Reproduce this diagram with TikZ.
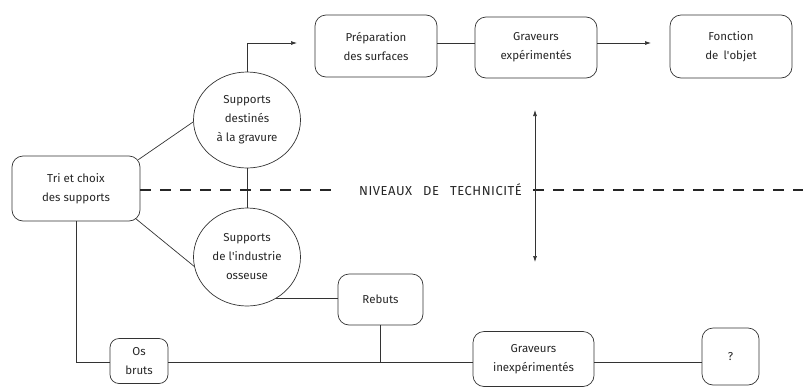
\documentclass[tikz,border=0pt]{standalone}
\usepackage{fontspec}
\setmainfont{Fira Sans}
\usetikzlibrary{arrows.meta,shapes.geometric}
\begin{document}
\begin{tikzpicture}[x=1pt,y=-1pt,
  every node/.style={font=\fontsize{11.5}{19}\selectfont, text=black!85, align=center},
  box/.style={draw=black!80, line width=0.7pt, rounded corners=11pt, inner sep=0pt},
  circ/.style={draw=black!80, line width=0.7pt, ellipse, inner sep=0pt},
  conn/.style={draw=black!80, line width=0.7pt},
  arr/.style={conn, -{Latex[length=6pt,width=4pt]}},
  dbl/.style={conn, {Latex[length=6pt,width=4pt]}-{Latex[length=6pt,width=4pt]}},
  dashline/.style={draw=black!85, line width=1.5pt, dash pattern=on 11pt off 9pt}
]
\useasboundingbox (0,0) rectangle (803,386);

\node[box, minimum width=122pt, minimum height=62pt] (prep) at (376,46) {Préparation\\des surfaces};
\node[box, minimum width=122pt, minimum height=61pt] (gexp) at (536,47.5) {Graveurs\\expérimentés};
\node[box, minimum width=122pt, minimum height=63pt] (fonc) at (731,46.5) {Fonction\\de\hspace{0.45em}l\textquotesingle objet};
\node[box, minimum width=128pt, minimum height=65pt] (tri) at (76,188.5) {Tri et choix\\des supports};
\node[circ, minimum width=107pt, minimum height=96pt] (c1) at (247,120) {Supports\\destinés\\à la gravure};
\node[circ, minimum width=107pt, minimum height=98pt] (c2) at (247,257) {Supports\\de l\textquotesingle industrie\\osseuse};
\node[box, minimum width=85pt, minimum height=51pt] (rebuts) at (380.5,299.5) {Rebuts};
\node[box, minimum width=58pt, minimum height=45pt, rounded corners=9pt] (os) at (139,361) {Os\\bruts};
\node[box, minimum width=121pt, minimum height=55pt] (ginexp) at (533.5,359) {Graveurs\\inexpérimentés};
\node[box, minimum width=57pt, minimum height=57pt] (q) at (730.5,356.5) {?};
\node[inner sep=0pt, anchor=west, font=\fontsize{13}{15}\selectfont\addfontfeatures{LetterSpace=4}] (niv) at (359,190) {NIVEAUX\hspace{0.85em}DE\hspace{0.85em}TECHNICITÉ};

\coordinate (arrtip) at (297,43);
\coordinate (fontip) at (651,43);
\coordinate (dashL) at (337,190);
\coordinate (dashR0) at (533,190);
\coordinate (dashR1) at (803,190);
\coordinate (vtop) at (535,110);
\coordinate (vbot) at (535,262);
\coordinate (bline) at (0,362);

% upper branch
\draw[arr] (c1.north) |- (arrtip);
\draw[conn] (prep.east |- arrtip) -- (gexp.west |- arrtip);
\draw[arr] (gexp.east |- fontip) -- (fontip);

% tri to circles
\draw[conn] ([shift={(-2,4)}]tri.north east) -- (c1.182);
\draw[conn] ([shift={(-5,-3)}]tri.south east) -- (c2.190);
\draw[conn] (c1.south) -- (c2.north);

% technicity
\draw[dashline] (tri.east |- dashL) -- (dashL);
\draw[dashline] (dashR0) -- (dashR1);
\draw[dbl] (vtop) -- (vbot);

% lower branch
\draw[conn] (c2.-55) -- (c2.-55 -| rebuts.west);
\draw[conn] (rebuts.south) -- (rebuts.south |- bline);
\draw[conn] (tri.south) |- (os.west |- bline);
\draw[conn] (os.east |- bline) -- (ginexp.west |- bline);
\draw[conn] (ginexp.east |- bline) -- (q.west |- bline);
\end{tikzpicture}
\end{document}
